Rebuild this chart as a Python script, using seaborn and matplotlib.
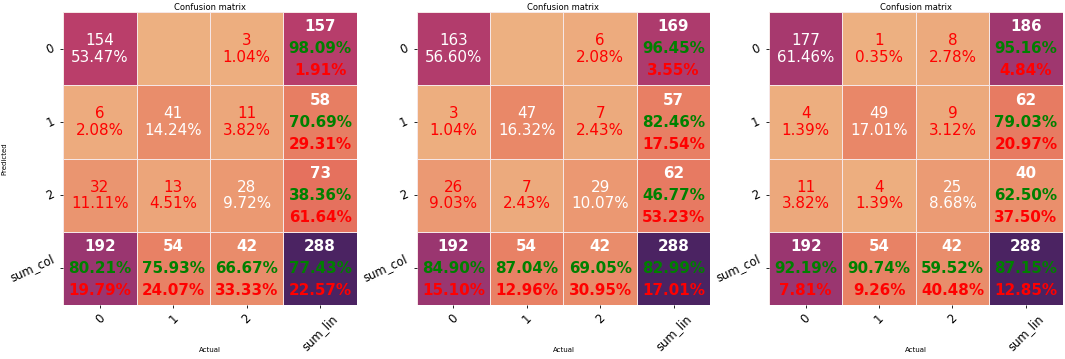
import numpy as np
import pandas as pd
import matplotlib
matplotlib.use("Agg")
import matplotlib.pyplot as plt
import seaborn as sns

# ---------------- data ----------------
classes = ["0", "1", "2"]
col_total_label = "sum_lin"
row_total_label = "sum_col"
title_text = "Confusion matrix"
xlabel_text = "Actual"
ylabel_text = "Predicted"

# rows = Predicted, columns = Actual
matrix_a = [[154, 0, 3],
            [6, 41, 11],
            [32, 13, 28]]
matrix_b = [[163, 0, 6],
            [3, 47, 7],
            [26, 7, 29]]
matrix_c = [[177, 1, 8],
            [4, 49, 9],
            [11, 4, 25]]
matrices = [matrix_a, matrix_b, matrix_c]

# ---------------- style ----------------
W, H = 1065, 359
fig = plt.figure(figsize=(W / 100, H / 100), dpi=100)
fig.patch.set_facecolor("white")

lefts = [63.3, 416.7, 769.0]
ax_w, ax_h = 293.5, 292.7
ax_bottom = H - 305.0

cell_fs = 10.9
tick_fs = 8.4


def full_matrix(cm):
    cm = np.asarray(cm, dtype=float)
    n = cm.shape[0]
    full = np.zeros((n + 1, n + 1))
    full[:n, :n] = cm
    full[:n, n] = cm.sum(axis=1)
    full[n, :n] = cm.sum(axis=0)
    full[n, n] = cm.sum()
    return full


for k, cm in enumerate(matrices):
    ax = fig.add_axes([lefts[k] / W, ax_bottom / H, ax_w / W, ax_h / H])
    full = full_matrix(cm)
    n = len(classes)
    xt = classes + [col_total_label]
    yt = classes + [row_total_label]
    df = pd.DataFrame(full, index=yt, columns=xt)
    sns.heatmap(df, ax=ax, cmap="flare", cbar=False, annot=False,
                linewidths=0.4, linecolor="#f6e6e6", square=False)

    total = full[n, n]
    for i in range(n + 1):
        for j in range(n + 1):
            v = full[i, j]
            cx, cy = j + 0.5, i + 0.5
            if i < n and j < n:
                if v == 0:
                    continue
                col = "white" if i == j else "red"
                ax.text(cx, cy, f"{int(v)}\n{v / total * 100:.2f}%",
                        ha="center", va="center", color=col,
                        fontsize=cell_fs, linespacing=1.12)
            else:
                if i == n and j == n:
                    correct = np.trace(full[:n, :n])
                elif j == n:
                    correct = full[i, i]
                else:
                    correct = full[j, j]
                acc = correct / v * 100 if v else 0
                err = 100 - acc
                ax.text(cx, cy - 0.3, f"{int(v)}", ha="center", va="center",
                        color="white", fontsize=cell_fs, fontweight="bold")
                ax.text(cx, cy, f"{acc:.2f}%", ha="center", va="center",
                        color="green", fontsize=cell_fs, fontweight="bold")
                ax.text(cx, cy + 0.3, f"{err:.2f}%", ha="center", va="center",
                        color="red", fontsize=cell_fs, fontweight="bold")

    ax.set_xticklabels(xt, rotation=45, fontsize=tick_fs)
    ax.set_yticklabels(yt, rotation=25, fontsize=tick_fs)
    ax.tick_params(axis="both", length=2.5, width=0.6, pad=2.5)
    ax.set_title(title_text, fontsize=6.0, pad=2)
    ax.set_xlabel(xlabel_text, fontsize=5.0)
    ax.xaxis.set_label_coords(0.5, -0.145)
    if k == 0:
        ax.set_ylabel(ylabel_text, fontsize=5.0)
        ax.yaxis.set_label_coords(-0.191, 0.5)
    else:
        ax.set_ylabel("")

fig.savefig("out.png", dpi=100, facecolor="white")
